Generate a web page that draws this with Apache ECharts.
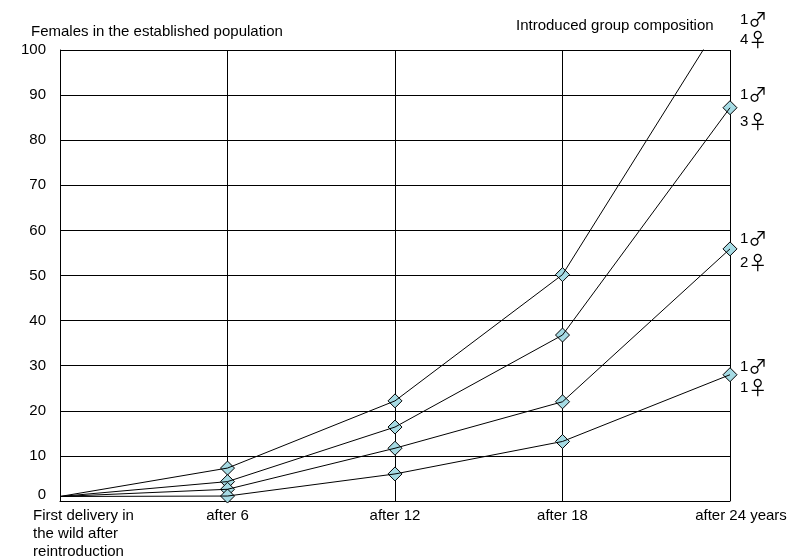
<!DOCTYPE html>
<html><head><meta charset="utf-8">
<script src="https://cdn.jsdelivr.net/npm/echarts@6/dist/echarts.min.js"></script>
<style>html,body{margin:0;padding:0;background:#fff}#c{width:800px;height:557px}</style>
</head><body><div id="c"></div>
<script>
const categories = ['First delivery in\nthe wild after\nreintroduction', 'after 6', 'after 12', 'after 18', 'after 24 years'];
const group1m4f = [1, 7.3, 22.2, 50.2, 109.5];
const group1m3f = [1, 4.3, 16.4, 36.8, 87.2];
const group1m2f = [1, 2.6, 11.7, 22, 55.9];
const group1m1f = [1, 1.1, 6, 13.2, 28];
const seriesData = [group1m4f, group1m3f, group1m2f, group1m1f];
const compositions = [[1, 4], [1, 3], [1, 2], [1, 1]];
const compositionRows = [[20, 40], [95, 122], [239, 263], [367, 388]];
const yTicks = {min: 0, max: 100, interval: 10};
const yTitle = 'Females in the established population';
const groupTitle = 'Introduced group composition';

const FONT = "'Liberation Sans', Arial, sans-serif";
const FS = 15;
const chart = echarts.init(document.getElementById('c'), null, {renderer: 'canvas'});
const series = [];
seriesData.forEach((d, i) => {
  series.push({type: 'scatter', symbol: 'diamond', symbolSize: 14, z: 2, clip: true,
    data: d.map((v, j) => j === 0 ? {value: v, symbol: 'none'} : v),
    itemStyle: {color: '#a6dbe4', borderColor: '#000', borderWidth: 1, opacity: 1}, silent: true});
  series.push({type: 'line', data: d, showSymbol: false, symbol: 'none', z: 3, clip: true,
    lineStyle: {color: '#000', width: 1}, silent: true});
});
const rich = {
  d: {fontFamily: FONT, fontSize: FS, color: '#000'},
  s: {fontFamily: "'Noto Sans CJK JP', 'DejaVu Sans', sans-serif", fontSize: 19, color: '#666'}
};
const graphics = [];
compositions.forEach((c, i) => {
  ['♂', '♀'].forEach((sym, k) => {
    graphics.push({
      type: 'text', x: 740, y: compositionRows[i][k],
      style: {text: '{d|' + c[k] + '}{s|' + sym + '}', rich: rich, verticalAlign: 'middle', align: 'left'}
    });
  });
});
chart.setOption({
  animation: false,
  backgroundColor: '#fff',
  title: [
    {text: yTitle, left: 31, top: 24, padding: 0, textStyle: {fontFamily: FONT, fontSize: FS, fontWeight: 'normal', color: '#000'}},
    {text: groupTitle, left: 516, top: 18, padding: 0, textStyle: {fontFamily: FONT, fontSize: FS, fontWeight: 'normal', color: '#000'}}
  ],
  grid: {left: 60, right: 70, top: 50, bottom: 56, containLabel: false, outerBoundsMode: 'none'},
  xAxis: {
    type: 'category', data: categories, boundaryGap: false,
    axisLine: {show: true, lineStyle: {color: '#000', width: 1}},
    axisTick: {show: false},
    splitLine: {show: true, lineStyle: {color: '#000', width: 1}},
    axisLabel: {
      interval: 0, margin: 6, fontFamily: FONT, fontSize: FS, color: '#000', lineHeight: 18,
      formatter: (v, i) => {
        if (i === 0) return v.split('\n').map(l => '{f|' + l + '}').join('\n');
        if (i === categories.length - 1) return '{l|' + v + '}';
        return v;
      },
      rich: {
        f: {fontFamily: FONT, fontSize: FS, color: '#000', lineHeight: 18, align: 'left', padding: [0, 0, 0, 47]},
        l: {fontFamily: FONT, fontSize: FS, color: '#000', lineHeight: 18, padding: [0, 0, 0, 22]}
      }
    }
  },
  yAxis: {
    type: 'value', min: yTicks.min, max: yTicks.max, interval: yTicks.interval,
    axisLine: {show: true, lineStyle: {color: '#000', width: 1}},
    axisTick: {show: false},
    splitLine: {show: true, lineStyle: {color: '#000', width: 1}},
    axisLabel: {
      margin: 14, fontFamily: FONT, fontSize: FS, color: '#000',
      formatter: v => v === 0 ? '{z|0}' : String(v),
      rich: {z: {fontFamily: FONT, fontSize: FS, color: '#000', padding: [0, 0, 12, 0]}}
    }
  },
  graphic: graphics,
  series: series
});
</script></body></html>
